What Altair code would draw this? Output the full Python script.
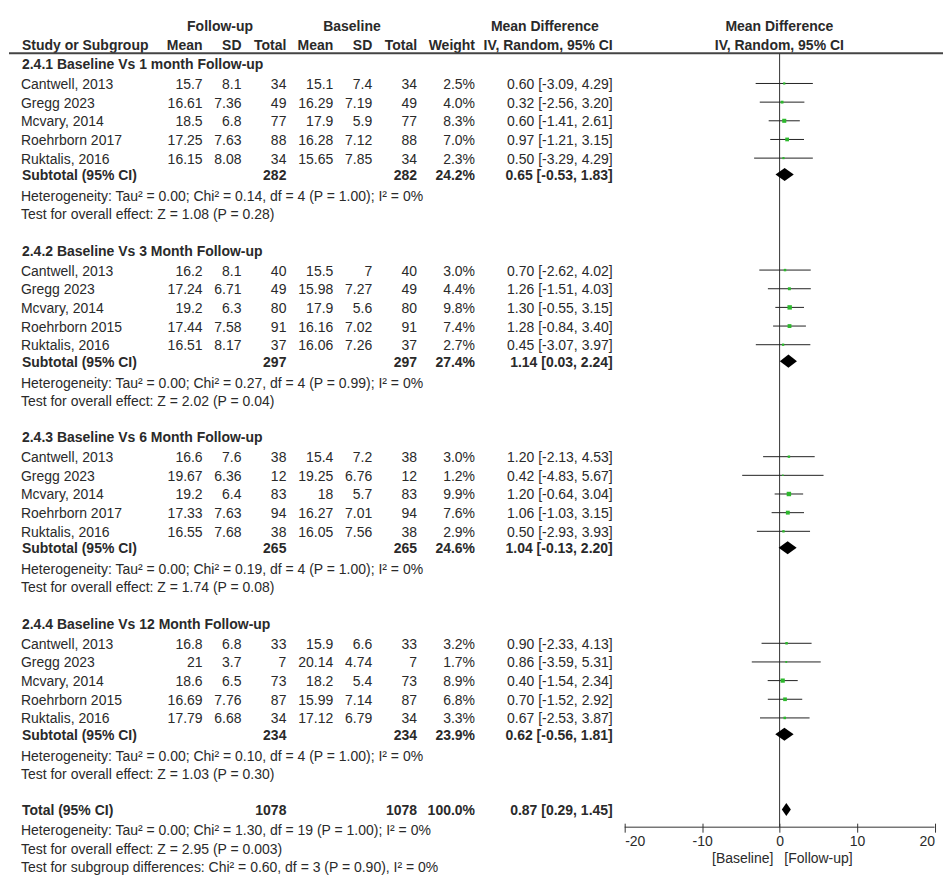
import altair as alt
import pandas as pd

FONT = "Liberation Sans"
TXT = "#2a2a2a"
LINE = "#333333"
GREEN = "#2db82d"

group_titles = [
    "2.4.1 Baseline Vs 1 month Follow-up",
    "2.4.2 Baseline Vs 3 Month Follow-up",
    "2.4.3 Baseline Vs 6 Month Follow-up",
    "2.4.4 Baseline Vs 12 Month Follow-up",
]
study_names = [
    ["Cantwell, 2013", "Gregg 2023", "Mcvary, 2014", "Roehrborn 2017", "Ruktalis, 2016"],
    ["Cantwell, 2013", "Gregg 2023", "Mcvary, 2014", "Roehrborn 2015", "Ruktalis, 2016"],
    ["Cantwell, 2013", "Gregg 2023", "Mcvary, 2014", "Roehrborn 2017", "Ruktalis, 2016"],
    ["Cantwell, 2013", "Gregg 2023", "Mcvary, 2014", "Roehrborn 2015", "Ruktalis, 2016"],
]
fu_mean = [[15.7, 16.61, 18.5, 17.25, 16.15], [16.2, 17.24, 19.2, 17.44, 16.51],
           [16.6, 19.67, 19.2, 17.33, 16.55], [16.8, 21, 18.6, 16.69, 17.79]]
fu_sd = [[8.1, 7.36, 6.8, 7.63, 8.08], [8.1, 6.71, 6.3, 7.58, 8.17],
         [7.6, 6.36, 6.4, 7.63, 7.68], [6.8, 3.7, 6.5, 7.76, 6.68]]
fu_n = [[34, 49, 77, 88, 34], [40, 49, 80, 91, 37], [38, 12, 83, 94, 38], [33, 7, 73, 87, 34]]
bl_mean = [[15.1, 16.29, 17.9, 16.28, 15.65], [15.5, 15.98, 17.9, 16.16, 16.06],
           [15.4, 19.25, 18, 16.27, 16.05], [15.9, 20.14, 18.2, 15.99, 17.12]]
bl_sd = [[7.4, 7.19, 5.9, 7.12, 7.85], [7, 7.27, 5.6, 7.02, 7.26],
         [7.2, 6.76, 5.7, 7.01, 7.56], [6.6, 4.74, 5.4, 7.14, 6.79]]
bl_n = [[34, 49, 77, 88, 34], [40, 49, 80, 91, 37], [38, 12, 83, 94, 38], [33, 7, 73, 87, 34]]
weights = [[2.5, 4.0, 8.3, 7.0, 2.3], [3.0, 4.4, 9.8, 7.4, 2.7],
           [3.0, 1.2, 9.9, 7.6, 2.9], [3.2, 1.7, 8.9, 6.8, 3.3]]
md = [[0.60, 0.32, 0.60, 0.97, 0.50], [0.70, 1.26, 1.30, 1.28, 0.45],
      [1.20, 0.42, 1.20, 1.06, 0.50], [0.90, 0.86, 0.40, 0.70, 0.67]]
ci_lo = [[-3.09, -2.56, -1.41, -1.21, -3.29], [-2.62, -1.51, -0.55, -0.84, -3.07],
         [-2.13, -4.83, -0.64, -1.03, -2.93], [-2.33, -3.59, -1.54, -1.52, -2.53]]
ci_hi = [[4.29, 3.20, 2.61, 3.15, 4.29], [4.02, 4.03, 3.15, 3.40, 3.97],
         [4.53, 5.67, 3.04, 3.15, 3.93], [4.13, 5.31, 2.34, 2.92, 3.87]]

sub_n_fu = [282, 297, 265, 234]
sub_n_bl = [282, 297, 265, 234]
sub_weight = [24.2, 27.4, 24.6, 23.9]
sub_md = [0.65, 1.14, 1.04, 0.62]
sub_lo = [-0.53, 0.03, -0.13, -0.56]
sub_hi = [1.83, 2.24, 2.20, 1.81]
sub_het = [
    "Heterogeneity: Tau² = 0.00; Chi² = 0.14, df = 4 (P = 1.00); I² = 0%",
    "Heterogeneity: Tau² = 0.00; Chi² = 0.27, df = 4 (P = 0.99); I² = 0%",
    "Heterogeneity: Tau² = 0.00; Chi² = 0.19, df = 4 (P = 1.00); I² = 0%",
    "Heterogeneity: Tau² = 0.00; Chi² = 0.10, df = 4 (P = 1.00); I² = 0%",
]
sub_test = [
    "Test for overall effect: Z = 1.08 (P = 0.28)",
    "Test for overall effect: Z = 2.02 (P = 0.04)",
    "Test for overall effect: Z = 1.74 (P = 0.08)",
    "Test for overall effect: Z = 1.03 (P = 0.30)",
]
total_n_fu = 1078
total_n_bl = 1078
total_weight = 100.0
total_md = 0.87
total_lo = 0.29
total_hi = 1.45
total_notes = [
    "Heterogeneity: Tau² = 0.00; Chi² = 1.30, df = 19 (P = 1.00); I² = 0%",
    "Test for overall effect: Z = 2.95 (P = 0.003)",
    "Test for subgroup differences: Chi² = 0.60, df = 3 (P = 0.90), I² = 0%",
]
axis_ticks = [-20, -10, 0, 10, 20]


def g(v):
    return f"{v:g}"


def ci_text(m, lo, hi):
    return f"{m:.2f} [{lo:.2f}, {hi:.2f}]"


study_rows, bold_rows, head_rows, note_rows, diamonds = [], [], [], [], []
for gi in range(4):
    base = 10 * gi
    head_rows.append(dict(row=base, label=group_titles[gi]))
    for i in range(5):
        study_rows.append(dict(
            row=base + 1.07 + i, label=study_names[gi][i],
            fm=g(fu_mean[gi][i]), fsd=g(fu_sd[gi][i]), fn=str(fu_n[gi][i]),
            bm=g(bl_mean[gi][i]), bsd=g(bl_sd[gi][i]), bn=str(bl_n[gi][i]),
            wt=f"{weights[gi][i]:.1f}%", w=weights[gi][i],
            ci=ci_text(md[gi][i], ci_lo[gi][i], ci_hi[gi][i]),
            md=md[gi][i], lo=ci_lo[gi][i], hi=ci_hi[gi][i]))
    r = base + 5.95
    bold_rows.append(dict(row=r, label="Subtotal (95% CI)", fn=str(sub_n_fu[gi]),
                          bn=str(sub_n_bl[gi]), wt=f"{sub_weight[gi]:.1f}%",
                          ci=ci_text(sub_md[gi], sub_lo[gi], sub_hi[gi])))
    diamonds += [dict(id=gi, x=sub_lo[gi], y=r, y2=r),
                 dict(id=gi, x=sub_md[gi], y=r - 0.35, y2=r + 0.35),
                 dict(id=gi, x=sub_hi[gi], y=r, y2=r)]
    note_rows.append(dict(row=base + 7.07, label=sub_het[gi]))
    note_rows.append(dict(row=base + 8.05, label=sub_test[gi]))

rt = 39.98
bold_rows.append(dict(row=rt, label="Total (95% CI)", fn=str(total_n_fu), bn=str(total_n_bl),
                      wt=f"{total_weight:.1f}%", ci=ci_text(total_md, total_lo, total_hi)))
diamonds += [dict(id=9, x=total_lo, y=rt, y2=rt),
             dict(id=9, x=total_md, y=rt - 0.35, y2=rt + 0.35),
             dict(id=9, x=total_hi, y=rt, y2=rt)]
for k, t in enumerate(total_notes):
    note_rows.append(dict(row=41.05 + k, label=t))

studies = pd.DataFrame(study_rows)
bolds = pd.DataFrame(bold_rows)
heads = pd.DataFrame(head_rows)
notes = pd.DataFrame(note_rows)
dia = pd.DataFrame(diamonds)

W, H = 936, 820
ys = alt.Scale(domain=[-2.925, 40.925], reverse=True, nice=False, zero=False)
xs = alt.Scale(domain=[-20, 20], range=[617, 927.5], nice=False, zero=False)
xaxis = alt.Axis(values=axis_ticks, title=None, domain=False, grid=False, tickSize=9,
                 offset=-4, labelFlush=True, labelPadding=2, labelFont=FONT,
                 labelFontSize=14, labelColor=TXT, tickColor=LINE, tickWidth=1,
                 labelExpr="datum.value + ''")
Y = lambda f="row": alt.Y(f"{f}:Q", scale=ys, axis=None)


def txt(df, field, x, align="right", bold=False, size=14):
    return alt.Chart(df).mark_text(
        align=align, baseline="middle", font=FONT, fontSize=size, dy=1.5,
        fontWeight="bold" if bold else "normal", color=TXT
    ).encode(x=alt.value(x), y=Y(), text=f"{field}:N")


layers = []
# header texts
hdr1 = pd.DataFrame({"row": [-2.02], "a": ["Follow-up"], "b": ["Baseline"], "c": ["Mean Difference"]})
layers += [txt(hdr1, "a", 211.5, "center", True), txt(hdr1, "b", 343.7, "center", True),
           txt(hdr1, "c", 537, "center", True), txt(hdr1, "c", 772, "center", True)]
hdr2 = pd.DataFrame({"row": [-1.04], "s": ["Study or Subgroup"], "m": ["Mean"], "sd": ["SD"],
                     "t": ["Total"], "w": ["Weight"], "iv": ["IV, Random, 95% CI"]})
layers += [txt(hdr2, "s", 13, "left", True), txt(hdr2, "m", 194, bold=True),
           txt(hdr2, "sd", 233, bold=True), txt(hdr2, "t", 278, bold=True),
           txt(hdr2, "m", 325, bold=True), txt(hdr2, "sd", 364, bold=True),
           txt(hdr2, "t", 409, bold=True), txt(hdr2, "w", 467, bold=True),
           txt(hdr2, "iv", 605, bold=True), txt(hdr2, "iv", 772, "center", True)]

# header separator line
sep = pd.DataFrame({"row": [-0.55]})
layers.append(alt.Chart(sep).mark_rule(color="#444444", strokeWidth=2).encode(
    x=alt.value(0), x2=alt.value(W), y=Y()))

# zero line
zero = pd.DataFrame({"x": [0], "row": [-0.55]})
layers.append(alt.Chart(zero).mark_rule(color=LINE, strokeWidth=1).encode(
    x=alt.X("x:Q", scale=xs, axis=xaxis), y=Y(), y2=alt.value(H)))

# axis line
ax = pd.DataFrame({"x": [axis_ticks[0]], "x2": [axis_ticks[-1]]})
layers.append(alt.Chart(ax).mark_rule(color=LINE, strokeWidth=1).encode(
    x=alt.X("x:Q", scale=xs, axis=xaxis), x2="x2:Q", y=alt.value(H)))

# table text
layers.append(txt(heads, "label", 13, "left", True))
layers += [txt(studies, "label", 12, "left"), txt(studies, "fm", 194), txt(studies, "fsd", 233),
           txt(studies, "fn", 278), txt(studies, "bm", 325), txt(studies, "bsd", 364),
           txt(studies, "bn", 409), txt(studies, "wt", 467), txt(studies, "ci", 605)]
layers += [txt(bolds, "label", 13, "left", True), txt(bolds, "fn", 278, bold=True),
           txt(bolds, "bn", 409, bold=True), txt(bolds, "wt", 467, bold=True),
           txt(bolds, "ci", 605, bold=True)]
layers.append(txt(notes, "label", 12, "left"))

# CI lines and squares
layers.append(alt.Chart(studies).mark_rule(color="#222222", strokeWidth=1).encode(
    x=alt.X("lo:Q", scale=xs, axis=xaxis), x2="hi:Q", y=Y()))
layers.append(alt.Chart(studies).mark_square(color=GREEN, opacity=1).encode(
    x=alt.X("md:Q", scale=xs, axis=xaxis), y=Y(),
    size=alt.Size("w:Q", scale=alt.Scale(domain=[0, 10], range=[0, 20]), legend=None)))

# diamonds
layers.append(alt.Chart(dia).mark_area(color="#000000", orient="vertical", opacity=1).encode(
    x=alt.X("x:Q", scale=xs, axis=xaxis), y=Y("y"), y2="y2:Q", detail="id:N"))

# favours labels
fav = pd.DataFrame({"row": [42.53], "l": ["[Baseline]"], "r": ["[Follow-up]"]})
layers += [txt(fav, "l", 766, "right"), txt(fav, "r", 777, "left")]

chart = alt.layer(*layers).properties(width=W, height=H, padding=0).configure_view(
    stroke=None).resolve_scale(y="shared", x="shared")

chart.save("out.html", embed_options={"renderer": "svg", "actions": False})
